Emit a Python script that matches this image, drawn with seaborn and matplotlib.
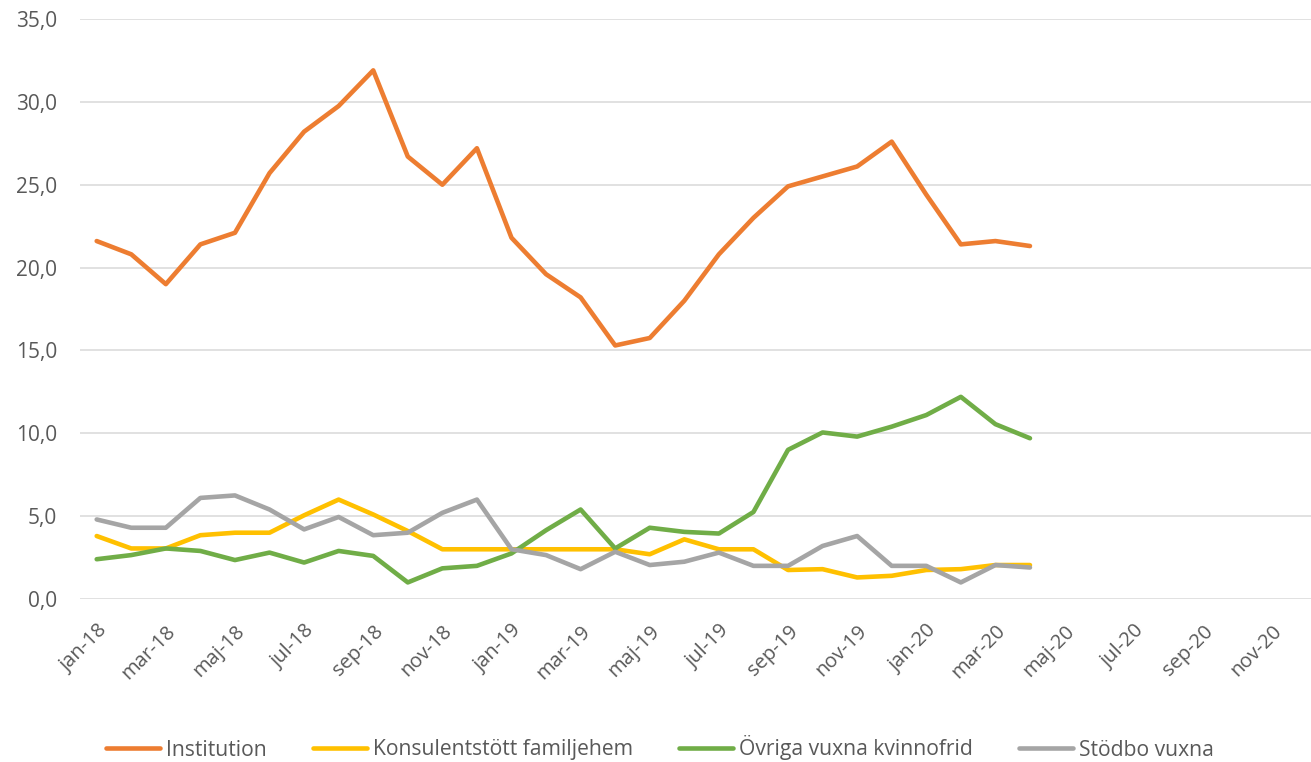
import matplotlib
matplotlib.use("Agg")
import matplotlib.pyplot as plt
import matplotlib.transforms as mtransforms
import seaborn as sns
import pandas as pd
from matplotlib.ticker import FuncFormatter, FixedLocator

months_sv = ["jan", "feb", "mar", "apr", "maj", "jun", "jul", "aug", "sep", "okt", "nov", "dec"]
years = ["18", "19", "20"]
categories = [f"{m}-{y}" for y in years for m in months_sv]

institution = [21.6, 20.8, 19.0, 21.4, 22.1, 25.7, 28.2, 29.75, 31.9, 26.7, 25.0, 27.2,
               21.8, 19.6, 18.2, 15.3, 15.75, 18.0, 20.8, 23.0, 24.9, 25.5, 26.1, 27.6,
               24.4, 21.4, 21.6, 21.3]
konsulent = [3.8, 3.05, 3.05, 3.85, 4.0, 4.0, 5.05, 6.0, 5.1, 4.1, 3.0, 3.0,
             3.0, 3.0, 3.0, 3.0, 2.7, 3.6, 3.0, 3.0, 1.75, 1.8, 1.3, 1.4,
             1.75, 1.8, 2.05, 2.05]
ovriga = [2.4, 2.65, 3.05, 2.9, 2.35, 2.8, 2.2, 2.9, 2.6, 1.0, 1.85, 2.0,
          2.75, 4.15, 5.4, 3.05, 4.3, 4.05, 3.95, 5.25, 9.0, 10.05, 9.8, 10.4,
          11.1, 12.2, 10.55, 9.7]
stodbo = [4.8, 4.3, 4.3, 6.1, 6.25, 5.4, 4.2, 4.95, 3.85, 4.0, 5.2, 6.0,
          3.0, 2.65, 1.8, 2.85, 2.05, 2.25, 2.8, 2.0, 2.0, 3.2, 3.8, 2.0,
          2.0, 1.0, 2.05, 1.9]

series_names = ["Institution", "Konsulentstött familjehem", "Övriga vuxna kvinnofrid", "Stödbo vuxna"]
series_values = [institution, konsulent, ovriga, stodbo]
colors = ["#ED7D31", "#FFC000", "#70AD47", "#A5A5A5"]

rows = []
for name, vals in zip(series_names, series_values):
    for i, v in enumerate(vals):
        rows.append({"idx": i, "month": categories[i], "value": v, "series": name})
df = pd.DataFrame(rows)

sns.set_theme(style="white")
plt.rcParams["font.family"] = ["Open Sans", "DejaVu Sans"]

W, H = 1311, 762
fig = plt.figure(figsize=(W / 100, H / 100), dpi=100)
ax = fig.add_axes([80 / W, 1 - 599 / H, (W - 80) / W, (599 - 19) / H])

sns.lineplot(data=df, x="idx", y="value", hue="series", hue_order=series_names,
             palette=colors, linewidth=3.3, ax=ax, legend=True,
             solid_capstyle="round", solid_joinstyle="round")

ax.set_xlim(-0.483, 35.13)
ax.set_ylim(0, 35)
ax.set_yticks([0, 5, 10, 15, 20, 25, 30, 35])
ax.yaxis.set_major_formatter(FuncFormatter(lambda v, p: f"{v:.1f}".replace(".", ",")))
ax.yaxis.grid(True, color="#D9D9D9", linewidth=1.1)
ax.set_axisbelow(True)
tick_pos = list(range(0, len(categories), 2))
ax.xaxis.set_major_locator(FixedLocator(tick_pos))
ax.set_xticklabels([categories[i] for i in tick_pos], rotation=45, ha="right", va="top",
                   rotation_mode="anchor", fontsize=14.5, color="#595959")
offset = mtransforms.ScaledTranslation(5 / 100, 0, fig.dpi_scale_trans)
for lab in ax.get_xticklabels():
    lab.set_transform(lab.get_transform() + offset)
ax.tick_params(axis="y", labelsize=15, labelcolor="#595959", length=0, pad=16.5)
ax.tick_params(axis="x", length=0, pad=16)
for s in ax.spines.values():
    s.set_visible(False)
ax.set_xlabel("")
ax.set_ylabel("")

handles, labels = ax.get_legend_handles_labels()
ax.get_legend().remove()
for h in handles:
    h.set_solid_capstyle("round")
    h.set_linewidth(3.3)
fig.legend(handles, labels, loc="center", bbox_to_anchor=(660 / W, 1 - 748 / H),
           ncol=4, frameon=False, fontsize=15.2, handlelength=2.55, handletextpad=0.27,
           columnspacing=2.2, labelcolor="#595959")

fig.savefig("out.png", dpi=100)
